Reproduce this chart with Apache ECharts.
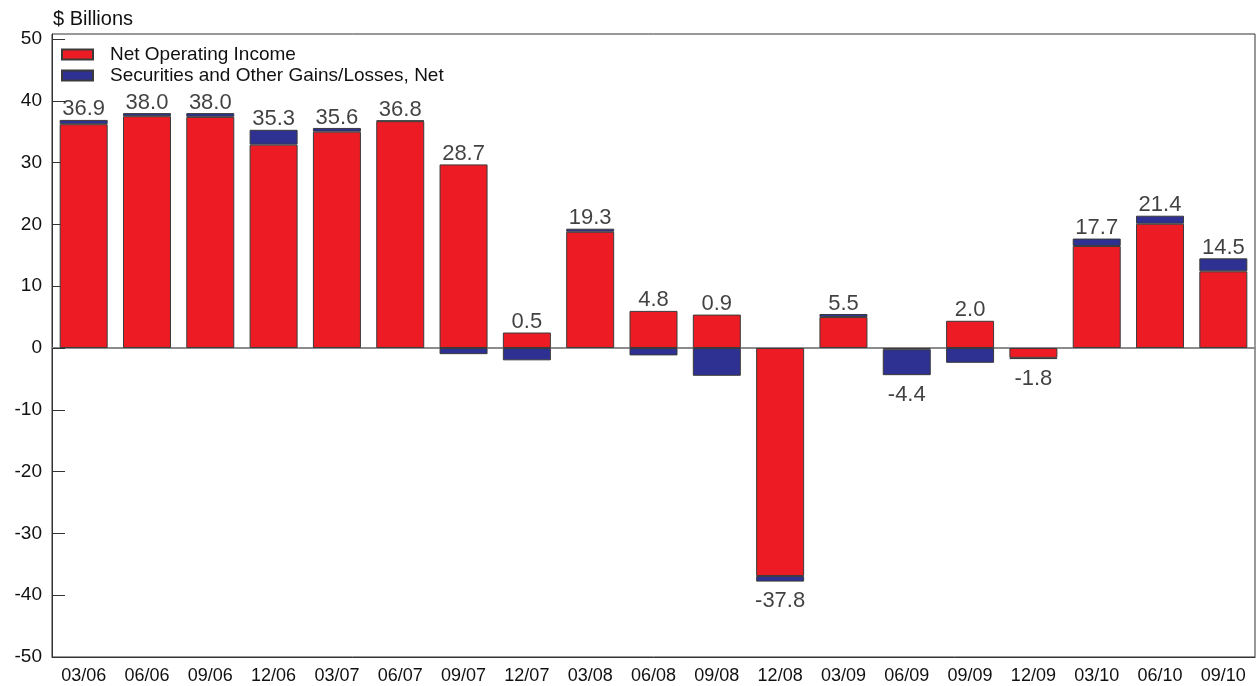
<!DOCTYPE html>
<html>
<head>
<meta charset="utf-8">
<script src="https://cdn.jsdelivr.net/npm/echarts@6/dist/echarts.min.js"></script>
<style>
html,body{margin:0;padding:0;background:#fff;}
#chart{width:1257px;height:686px;}
</style>
</head>
<body>
<div id="chart"></div>
<script>
const categories = ['03/06','06/06','09/06','12/06','03/07','06/07','09/07','12/07','03/08','06/08','09/08','12/08','03/09','06/09','09/09','12/09','03/10','06/10','09/10'];
const netOperatingIncome = [36.2,37.5,37.4,32.9,35.0,36.7,29.7,2.5,18.8,6.0,5.4,-36.9,5.0,-0.2,4.4,-1.6,16.5,20.1,12.4];
const securitiesGains = [0.7,0.5,0.6,2.4,0.6,0.1,-1.0,-2.0,0.5,-1.2,-4.5,-0.9,0.5,-4.2,-2.4,-0.2,1.2,1.3,2.1];
const totals = [36.9,38.0,38.0,35.3,35.6,36.8,28.7,0.5,19.3,4.8,0.9,-37.8,5.5,-4.4,2.0,-1.8,17.7,21.4,14.5];
const yTicks = [-50,-40,-30,-20,-10,0,10,20,30,40,50];

const FONT = '"Liberation Sans", Arial, sans-serif';
const TXT = '#111';

// label anchors: extreme of the stack in the direction of the total's sign
const labelData = totals.map((t, i) => {
  const a = netOperatingIncome[i], b = securitiesGains[i];
  const pos = Math.max(a, 0) + Math.max(b, 0);
  const neg = Math.min(a, 0) + Math.min(b, 0);
  return {
    value: t >= 0 ? pos : neg,
    label: t >= 0
      ? { position: 'top', distance: -1, formatter: t.toFixed(1) }
      : { position: 'bottom', distance: 8, formatter: t.toFixed(1) }
  };
});

const chart = echarts.init(document.getElementById('chart'));
chart.setOption({
  animation: false,
  backgroundColor: '#fff',
  textStyle: { fontFamily: FONT },
  title: {
    text: '$ Billions', left: 48, top: 4,
    textStyle: { fontSize: 20, fontWeight: 'normal', color: TXT, fontFamily: FONT }
  },
  legend: {
    orient: 'vertical', left: 56, top: 40, icon: 'rect',
    itemWidth: 31, itemHeight: 10, itemGap: 2,
    data: ['Net Operating Income', 'Securities and Other Gains/Losses, Net'],
    textStyle: { fontSize: 19, color: TXT, lineHeight: 19, padding: [0, 0, 0, 12], fontFamily: FONT }
  },
  grid: {
    left: 52, right: 2, top: 34, bottom: 29,
    show: true, borderColor: '#333', borderWidth: 1
  },
  xAxis: [{
    type: 'category', data: categories,
    axisLine: { onZero: false, lineStyle: { color: '#333', width: 1 } },
    axisTick: { show: false },
    axisLabel: { color: TXT, fontSize: 18, margin: 10, interval: 0, fontFamily: FONT }
  }, {
    type: 'category', data: categories, position: 'bottom',
    axisLine: { onZero: true, lineStyle: { color: '#8c8c8c', width: 2 } },
    axisTick: { show: false }, axisLabel: { show: false }
  }],
  yAxis: {
    type: 'value', min: -50, max: 50.8, interval: 10,
    axisLine: { show: true, lineStyle: { color: '#333', width: 1 } },
    axisTick: { show: true, inside: true, length: 13, lineStyle: { color: '#333' } },
    axisLabel: { color: TXT, fontSize: 19, margin: 10, showMaxLabel: false, fontFamily: FONT,
      formatter: v => (yTicks.indexOf(v) >= 0 ? String(v) : '') },
    splitLine: { show: false }
  },
  series: [{
    name: 'Net Operating Income', type: 'bar', stack: 'total',
    data: netOperatingIncome, barWidth: 48,
    itemStyle: { color: '#ED1C24', borderColor: '#3a3a3a', borderWidth: 1 }
  }, {
    name: 'Securities and Other Gains/Losses, Net', type: 'bar', stack: 'total',
    data: securitiesGains, barWidth: 48,
    itemStyle: { color: '#2E3192', borderColor: '#3a3a3a', borderWidth: 1 }
  }, {
    name: 'totals', type: 'scatter', data: labelData,
    symbolSize: 1, itemStyle: { color: 'rgba(0,0,0,0)' }, z: 5,
    label: { show: true, color: TXT, fontSize: 22, fontFamily: FONT }
  }]
});
</script>
</body>
</html>
